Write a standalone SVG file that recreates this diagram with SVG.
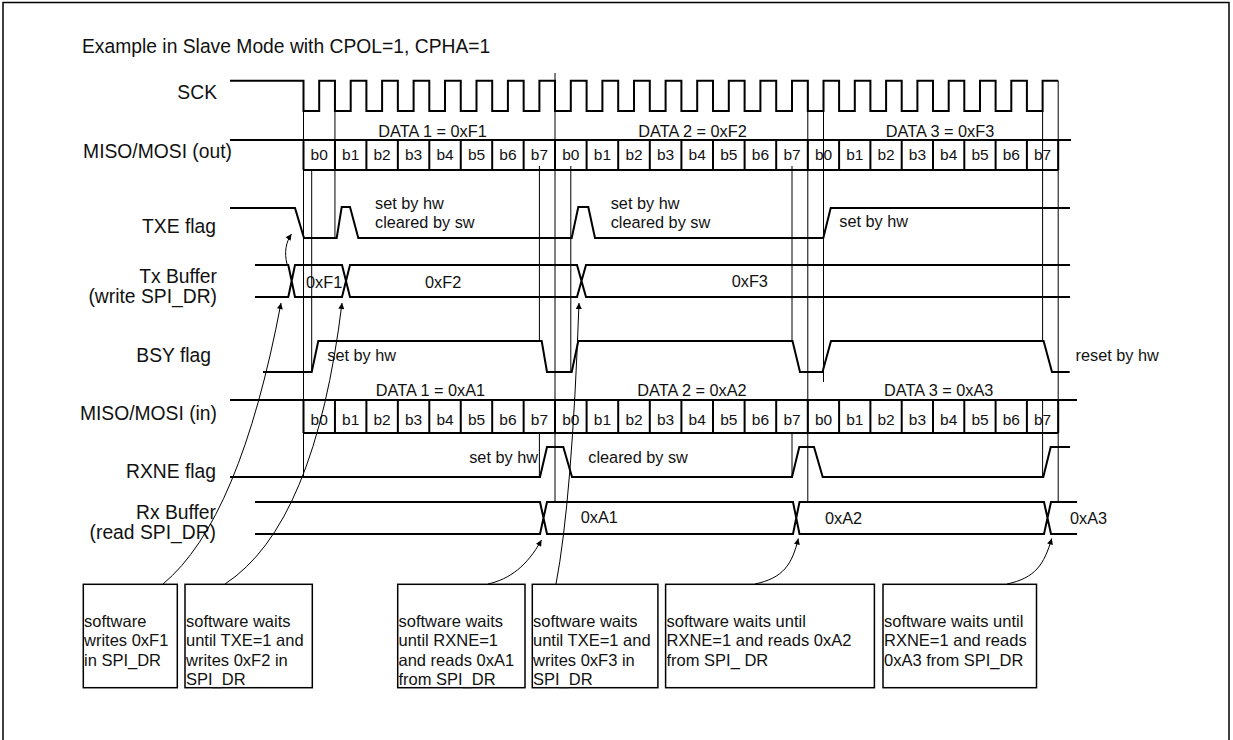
<svg xmlns="http://www.w3.org/2000/svg" width="1233" height="740" viewBox="0 0 1233 740">
<style>
text{font-family:"Liberation Sans",Arial,sans-serif;fill:#111}
.lbl{font-size:19.3px;text-anchor:end}
.ttl{font-size:19.3px}
.sm{font-size:16.3px}
.bit{font-size:15.5px;text-anchor:middle}
.dl{font-size:16.3px;text-anchor:middle}
.bx{font-size:16.5px}
.sig{fill:none;stroke:#000;stroke-width:2;stroke-linejoin:miter}
.thin{fill:none;stroke:#000;stroke-width:1}
.box{fill:#fff;stroke:#000;stroke-width:1.5}
.arr{fill:none;stroke:#000;stroke-width:1;marker-end:url(#ah)}
</style>
<defs>
<marker id="ah" viewBox="0 0 10 10" refX="10" refY="5" markerWidth="8" markerHeight="6" markerUnits="userSpaceOnUse" orient="auto">
<path d="M0,0 L10,5 L0,10 z" fill="#000"/>
</marker>
</defs>
<rect x="3" y="2.5" width="1226" height="760" fill="#fff" stroke="#000" stroke-width="1.5"/>
<text class="ttl" x="82" y="53">Example in Slave Mode with CPOL=1, CPHA=1</text>

<g id="guides">
<path class="thin" d="M303.5,111V477 M311.7,170V372 M334.95,111V238 M539.4,166V341 M539.4,433V477 M555,73V502 M570.8,166V372 M792,166V341 M792,433V477 M807.8,80.7V502 M823.5,111V382 M1042.6,111V341 M1042.6,400V477 M1058.2,80.7V502"/>
</g>

<g id="sck">
<text class="lbl" x="217" y="99">SCK</text>
<path class="sig" d="M230,80.7H303.5V111H319.2V80.7H334.95V111H350.7V80.7H366.4V111H382.1V80.7H397.85V111H413.6V80.7H429.3V111H445V80.7H460.75V111H476.5V80.7H492.2V111H507.9V80.7H523.65V111H539.4V80.7H555V111H570.8V80.7H586.6V111H602.4V80.7H618.2V111H634V80.7H649.8V111H665.6V80.7H681.4V111H697.2V80.7H713V111H728.8V80.7H744.6V111H760.4V80.7H776.2V111H792V80.7H807.8V111H823.5V80.7H839.1V111H854.8V80.7H870.4V111H886.1V80.7H901.7V111H917.4V80.7H933V111H948.7V80.7H964.3V111H980V80.7H995.6V111H1011.3V80.7H1026.9V111H1042.6V80.7H1058.2"/>
</g>

<g id="miso-out">
<text class="lbl" x="232" y="158">MISO/MOSI (out)</text>
<path class="sig" d="M230,140H1071 M303.5,170H1058.2 M303.5,140V170 M334.95,140V170 M366.4,140V170 M397.85,140V170 M429.3,140V170 M460.75,140V170 M492.2,140V170 M523.65,140V170 M555,140V170 M586.6,140V170 M618.2,140V170 M649.8,140V170 M681.4,140V170 M713,140V170 M744.6,140V170 M776.2,140V170 M807.8,140V170 M839.1,140V170 M870.4,140V170 M901.7,140V170 M933,140V170 M964.3,140V170 M995.6,140V170 M1026.9,140V170 M1058.2,140V170"/>
<text class="dl" x="432.5" y="137">DATA 1 = 0xF1</text>
<text class="dl" x="692.5" y="137">DATA 2 = 0xF2</text>
<text class="dl" x="940" y="137">DATA 3 = 0xF3</text>
<g class="bitrow">
<text class="bit" x="319.2" y="160">b0</text><text class="bit" x="350.7" y="160">b1</text><text class="bit" x="382.1" y="160">b2</text><text class="bit" x="413.6" y="160">b3</text><text class="bit" x="445" y="160">b4</text><text class="bit" x="476.5" y="160">b5</text><text class="bit" x="507.9" y="160">b6</text><text class="bit" x="539.4" y="160">b7</text>
<text class="bit" x="570.8" y="160">b0</text><text class="bit" x="602.4" y="160">b1</text><text class="bit" x="634" y="160">b2</text><text class="bit" x="665.6" y="160">b3</text><text class="bit" x="697.2" y="160">b4</text><text class="bit" x="728.8" y="160">b5</text><text class="bit" x="760.4" y="160">b6</text><text class="bit" x="792" y="160">b7</text>
<text class="bit" x="823.5" y="160">b0</text><text class="bit" x="854.8" y="160">b1</text><text class="bit" x="886.1" y="160">b2</text><text class="bit" x="917.4" y="160">b3</text><text class="bit" x="948.7" y="160">b4</text><text class="bit" x="980" y="160">b5</text><text class="bit" x="1011.3" y="160">b6</text><text class="bit" x="1042.6" y="160">b7</text>
</g>
</g>

<g id="txe">
<text class="lbl" x="216" y="233">TXE flag</text>
<path class="sig" d="M230,208H295L304,238H336.7L341.7,207H350L358.3,238H571.7L578.3,207H588.3L595,238H823.3L830.7,208H1070"/>
<text class="sm" x="375" y="209">set by hw</text>
<text class="sm" x="375" y="228">cleared by sw</text>
<text class="sm" x="610.7" y="209">set by hw</text>
<text class="sm" x="610.7" y="228">cleared by sw</text>
<text class="sm" x="839.3" y="227">set by hw</text>
</g>

<g id="tx-buffer">
<text class="lbl" x="217" y="283">Tx Buffer</text>
<text class="lbl" x="217" y="303">(write SPI_DR)</text>
<path class="sig" d="M255,265H288.3L295,297H342L350,265H577L586,297H1070 M255,297H288.3L295,265H342L350,297H577L586,265H1070"/>
<text class="sm" x="306" y="288">0xF1</text>
<text class="sm" x="425" y="288">0xF2</text>
<text class="sm" x="731.7" y="287">0xF3</text>
</g>

<g id="bsy">
<text class="lbl" x="211" y="362">BSY flag</text>
<path class="sig" d="M263,372H311.7L318.3,341H541.7L547,372H571.7L578.3,341H792.5L800,372H822.5L831,341H1043.6L1052,372H1069.7"/>
<text class="sm" x="327.3" y="361">set by hw</text>
<text class="sm" x="1075.6" y="361">reset by hw</text>
</g>

<g id="miso-in">
<text class="lbl" x="217" y="420">MISO/MOSI (in)</text>
<path class="sig" d="M230,400H1077 M303.5,433H1058.2 M303.5,400V433 M334.95,400V433 M366.4,400V433 M397.85,400V433 M429.3,400V433 M460.75,400V433 M492.2,400V433 M523.65,400V433 M555,400V433 M586.6,400V433 M618.2,400V433 M649.8,400V433 M681.4,400V433 M713,400V433 M744.6,400V433 M776.2,400V433 M807.8,400V433 M839.1,400V433 M870.4,400V433 M901.7,400V433 M933,400V433 M964.3,400V433 M995.6,400V433 M1026.9,400V433 M1058.2,400V433"/>
<text class="dl" x="430.5" y="396">DATA 1 = 0xA1</text>
<text class="dl" x="692" y="396">DATA 2 = 0xA2</text>
<text class="dl" x="938.7" y="396">DATA 3 = 0xA3</text>
<g class="bitrow">
<text class="bit" x="319.2" y="425">b0</text><text class="bit" x="350.7" y="425">b1</text><text class="bit" x="382.1" y="425">b2</text><text class="bit" x="413.6" y="425">b3</text><text class="bit" x="445" y="425">b4</text><text class="bit" x="476.5" y="425">b5</text><text class="bit" x="507.9" y="425">b6</text><text class="bit" x="539.4" y="425">b7</text>
<text class="bit" x="570.8" y="425">b0</text><text class="bit" x="602.4" y="425">b1</text><text class="bit" x="634" y="425">b2</text><text class="bit" x="665.6" y="425">b3</text><text class="bit" x="697.2" y="425">b4</text><text class="bit" x="728.8" y="425">b5</text><text class="bit" x="760.4" y="425">b6</text><text class="bit" x="792" y="425">b7</text>
<text class="bit" x="823.5" y="425">b0</text><text class="bit" x="854.8" y="425">b1</text><text class="bit" x="886.1" y="425">b2</text><text class="bit" x="917.4" y="425">b3</text><text class="bit" x="948.7" y="425">b4</text><text class="bit" x="980" y="425">b5</text><text class="bit" x="1011.3" y="425">b6</text><text class="bit" x="1042.6" y="425">b7</text>
</g>
</g>

<g id="rxne">
<text class="lbl" x="216" y="478">RXNE flag</text>
<path class="sig" d="M230,477H540L547,447H563.3L572,477H792L799.3,447H814L822.7,477H1043.3L1050.7,447H1070"/>
<text class="sm" x="538" y="463" text-anchor="end">set by hw</text>
<text class="sm" x="588.3" y="463">cleared by sw</text>
</g>

<g id="rx-buffer">
<text class="lbl" x="216" y="519">Rx Buffer</text>
<text class="lbl" x="216" y="539">(read SPI_DR)</text>
<path class="sig" d="M255,502H540L547,534H793L799.5,502H1044L1051,534H1077 M255,534H540L547,502H793L799.5,534H1044L1051,502H1077"/>
<text class="sm" x="580.7" y="523">0xA1</text>
<text class="sm" x="825" y="524">0xA2</text>
<text class="sm" x="1070" y="524">0xA3</text>
</g>

<g id="box1">
<rect class="box" x="83.3" y="584.3" width="94" height="103.4"/>
<text class="bx" x="84" y="626.5">software</text>
<text class="bx" x="84" y="646">writes 0xF1</text>
<text class="bx" x="84" y="665.5">in SPI_DR</text>
</g>
<g id="box2">
<rect class="box" x="185" y="584.3" width="127.3" height="103.4"/>
<text class="bx" x="186" y="626.5">software waits</text>
<text class="bx" x="186" y="646">until TXE=1 and</text>
<text class="bx" x="186" y="665.5">writes 0xF2 in</text>
<text class="bx" x="186" y="685">SPI_DR</text>
</g>
<g id="box3">
<rect class="box" x="397.7" y="584.3" width="127.3" height="103.4"/>
<text class="bx" x="398.5" y="626.5">software waits</text>
<text class="bx" x="398.5" y="646">until RXNE=1</text>
<text class="bx" x="398.5" y="665.5">and reads 0xA1</text>
<text class="bx" x="398.5" y="685">from SPI_DR</text>
</g>
<g id="box4">
<rect class="box" x="532.3" y="584.3" width="125.6" height="103.4"/>
<text class="bx" x="533" y="626.5">software waits</text>
<text class="bx" x="533" y="646">until TXE=1 and</text>
<text class="bx" x="533" y="665.5">writes 0xF3 in</text>
<text class="bx" x="533" y="685">SPI_DR</text>
</g>
<g id="box5">
<rect class="box" x="665.6" y="584.3" width="208.8" height="103.4"/>
<text class="bx" x="666.5" y="626.5">software waits until</text>
<text class="bx" x="666.5" y="646">RXNE=1 and reads 0xA2</text>
<text class="bx" x="666.5" y="665.5">from SPI_ DR</text>
</g>
<g id="box6">
<rect class="box" x="883" y="584.3" width="153.5" height="103.4"/>
<text class="bx" x="884" y="626.5">software waits until</text>
<text class="bx" x="884" y="646">RXNE=1 and reads</text>
<text class="bx" x="884" y="665.5">0xA3 from SPI_DR</text>
</g>

<g id="connectors">
<path class="arr" d="M163,584 Q240,520 281,303"/>
<path class="arr" d="M225,584 Q315,525 342,303"/>
<path class="arr" d="M287,264 C284,252 286,242 291.5,234"/>
<path class="arr" d="M488,584 C510,579 527,566 541.5,540"/>
<path class="arr" d="M556,584 Q572,500 579,303"/>
<path class="arr" d="M755,584 C783,578 792,565 798.3,538.5"/>
<path class="arr" d="M1007,584 C1035,578 1044,565 1051.7,538.5"/>
</g>
</svg>
